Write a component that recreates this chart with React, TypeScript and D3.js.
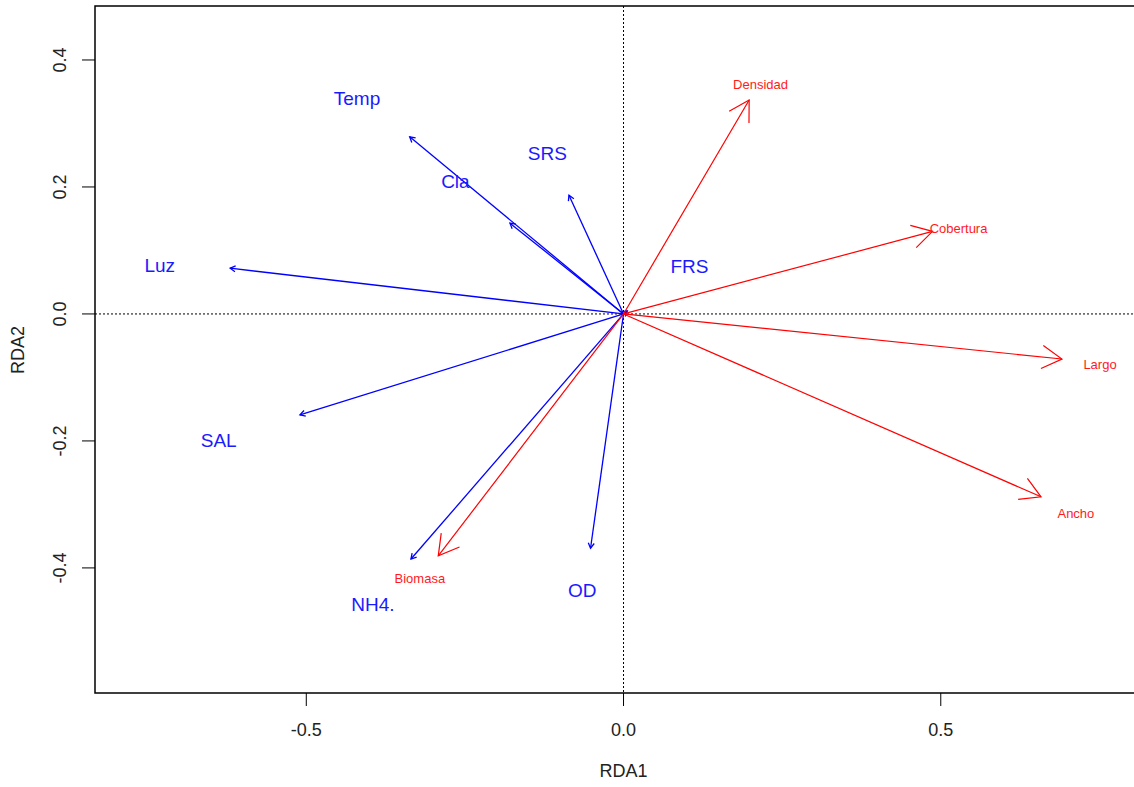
import React from 'react';
import { scaleLinear } from 'd3';

// environmental vectors (blue)
const envNames = ['Temp', 'Cla', 'SRS', 'Luz', 'SAL', 'NH4.', 'OD', 'FRS'];
const envX = [-0.337, -0.179, -0.086, -0.62, -0.51, -0.335, -0.052, 0.006];
const envY = [0.279, 0.143, 0.187, 0.072, -0.159, -0.386, -0.369, 0.005];
const envLabelX = [-0.42, -0.265, -0.12, -0.731, -0.638, -0.395, -0.065, 0.104];
const envLabelY = [0.34, 0.208, 0.252, 0.077, -0.2, -0.457, -0.436, 0.074];

// response variables (red)
const spNames = ['Densidad', 'Cobertura', 'Largo', 'Ancho', 'Biomasa'];
const spX = [0.198, 0.487, 0.691, 0.658, -0.292];
const spY = [0.337, 0.13, -0.071, -0.288, -0.381];
const spLabelX = [0.216, 0.528, 0.751, 0.713, -0.321];
const spLabelY = [0.362, 0.134, -0.08, -0.315, -0.417];

const xTicks = [-0.5, 0, 0.5];
const yTicks = [-0.4, -0.2, 0, 0.2, 0.4];

const W = 1134;
const H = 787;
const left = 95, top = 6, bottom = 693, right = 1140;
const font = '"Liberation Sans", Arial, sans-serif';

const x = scaleLinear().domain([-0.833, 0.814]).range([left, right]);
const y = scaleLinear().domain([-0.597, 0.485]).range([bottom, top]);

function arrowHead(x0: number, y0: number, x1: number, y1: number, len: number) {
    const a = Math.atan2(y1 - y0, x1 - x0);
    const d = Math.PI / 6;
    const p1 = [x1 - len * Math.cos(a - d), y1 - len * Math.sin(a - d)];
    const p2 = [x1 - len * Math.cos(a + d), y1 - len * Math.sin(a + d)];
    return `M${p1[0]},${p1[1]}L${x1},${y1}L${p2[0]},${p2[1]}`;
}

export default function App() {
    const x0 = x(0), y0 = y(0);
    return (
        <svg width={W} height={H} style={{ position: 'absolute', left: 0, top: 0, background: '#fff' }}>
            {/* dotted zero lines */}
            <line x1={x0} x2={x0} y1={top} y2={bottom} stroke="#000" strokeDasharray="2,2" />
            <line x1={left} x2={W} y1={y0} y2={y0} stroke="#000" strokeDasharray="2,2" />

            {envNames.map((n, i) => {
                const tx = x(envX[i]), ty = y(envY[i]);
                return (
                    <g key={n} stroke="#0000ff" strokeWidth={1.3} fill="none">
                        <line x1={x0} y1={y0} x2={tx} y2={ty} />
                        <path d={arrowHead(x0, y0, tx, ty, 6)} />
                    </g>
                );
            })}
            {spNames.map((n, i) => {
                const tx = x(spX[i]), ty = y(spY[i]);
                return (
                    <g key={n} stroke="#ff0000" strokeWidth={1.2} fill="none">
                        <line x1={x0} y1={y0} x2={tx} y2={ty} />
                        <path d={arrowHead(x0, y0, tx, ty, 23)} />
                    </g>
                );
            })}

            {envNames.map((n, i) => (
                <text key={n} x={x(envLabelX[i])} y={y(envLabelY[i])} fill="#1a1aff" fontFamily={font}
                    fontSize={19} textAnchor="middle" dominantBaseline="central">{n}</text>
            ))}
            {spNames.map((n, i) => (
                <text key={n} x={x(spLabelX[i])} y={y(spLabelY[i])} fill="#ff1a1a" fontFamily={font}
                    fontSize={13} textAnchor="middle" dominantBaseline="central">{n}</text>
            ))}

            {/* box (right edge falls outside the window) */}
            <path d={`M${W + 5},${top}H${left}V${bottom}H${W + 5}`} fill="none" stroke="#000" strokeWidth={1.5} />

            {xTicks.map(t => (
                <g key={t}>
                    <line x1={x(t)} x2={x(t)} y1={bottom} y2={bottom + 13} stroke="#000" />
                    <text x={x(t)} y={730} textAnchor="middle" dominantBaseline="central" fontFamily={font} fontSize={18}
                        fill="#222">
                        {t.toFixed(1)}
                    </text>
                </g>
            ))}
            {yTicks.map(t => (
                <g key={t}>
                    <line x1={left - 13} x2={left} y1={y(t)} y2={y(t)} stroke="#000" />
                    <text transform={`translate(60,${y(t)}) rotate(-90)`} textAnchor="middle" dominantBaseline="central"
                        fontFamily={font} fontSize={18} fill="#222">
                        {t.toFixed(1)}
                    </text>
                </g>
            ))}
            <text x={x0} y={771} textAnchor="middle" dominantBaseline="central" fontFamily={font} fontSize={18}
                fill="#222">RDA1</text>
            <text transform={`translate(18,${y0 + 36}) rotate(-90)`} textAnchor="middle" dominantBaseline="central"
                fontFamily={font} fontSize={18} fill="#222">RDA2</text>
        </svg>
    );
}
